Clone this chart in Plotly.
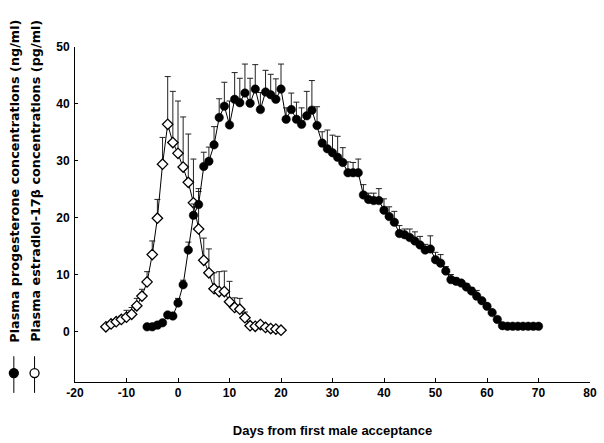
import plotly.graph_objects as go

# Estradiol-17beta (pg/ml), open diamonds
e2_days = list(range(-14, 21))
e2_vals = [0.8, 1.3, 1.7, 2.1, 2.5, 3.0, 4.5, 6.2, 8.7, 13.5, 19.9, 29.4, 36.4, 33.2,
           31.3, 28.9, 26.2, 22.6, 18.0, 12.5, 10.3, 7.5, 7.0, 7.0, 5.2, 4.2, 3.9, 2.4,
           1.0, 0.9, 1.2, 0.7, 0.5, 0.4, 0.2]
e2_err = [0.2, 0.3, 0.4, 0.6, 1.2, 1.2, 1.3, 1.2, 1.8, 2.4, 3.3, 4.7, 8.4, 9.0,
          9.2, 8.8, 8.5, 7.7, 6.6, 3.9, 4.2, 2.8, 3.5, 3.6, 3.6, 1.7, 1.9, 1.0,
          0.3, 0.3, 0.3, 0.2, 0.2, 0.2, 0.2]

# Progesterone (ng/ml), filled circles
p4_days = list(range(-6, 71))
p4_vals = [0.8, 0.8, 1.1, 1.5, 2.9, 2.7, 5.0, 8.2, 14.3, 20.4, 22.3, 29.0, 29.9, 32.8,
           37.6, 39.6, 36.3, 40.8, 40.2, 41.9, 40.1, 42.6, 39.0, 42.1, 41.6, 40.8, 42.6,
           37.3, 39.0, 37.3, 36.4, 37.9, 38.9, 36.2, 33.1, 32.1, 31.4, 30.6, 29.7, 27.9,
           27.9, 27.9, 24.0, 23.2, 23.0, 23.0, 21.3, 20.2, 19.2, 17.2, 17.0, 16.5, 15.9,
           15.2, 14.3, 14.5, 12.6, 12.0, 10.6, 9.1, 8.8, 8.5, 7.8, 7.1, 6.2, 5.4, 4.4,
           3.3, 2.1, 1.0, 0.9, 0.9, 0.9, 0.9, 0.9, 0.9, 0.9]
p4_err = [0.2, 0.2, 0.2, 0.2, 0.4, 0.5, 0.8, 0.8, 1.4, 2.0, 2.8, 2.5, 2.5, 3.2,
          3.3, 4.2, 4.2, 4.7, 4.3, 5.1, 4.4, 4.3, 3.0, 3.8, 3.6, 3.6, 4.4,
          2.0, 2.9, 3.0, 2.9, 4.3, 5.2, 3.3, 2.0, 3.3, 3.1, 3.7, 2.6, 1.9,
          1.8, 2.4, 1.8, 1.1, 1.3, 2.1, 2.0, 1.7, 1.9, 1.4, 1.0, 1.5, 1.6,
          1.5, 1.0, 2.3, 1.3, 1.5, 0.8, 0.9, 0.6, 0.4, 0.6, 0.6, 1.0, 0.2, 0.2,
          0.2, 0.2, 0.2, 0.2, 0.2, 0.2, 0.2, 0.2, 0.2, 0.2]

x_ticks = [-20, -10, 0, 10, 20, 30, 40, 50, 60, 70, 80]
y_ticks = [0, 10, 20, 30, 40, 50]

FONT = "Liberation Sans"
LFONT = "DejaVu Sans"

fig = go.Figure()
fig.add_trace(go.Scatter(
    x=e2_days, y=e2_vals, mode="lines+markers",
    line=dict(color="black", width=1),
    marker=dict(symbol="diamond", size=8, color="white", line=dict(color="black", width=1.3)),
    error_y=dict(type="data", array=e2_err, arrayminus=[0] * len(e2_err), symmetric=False,
                 color="#222", thickness=1, width=3),
    showlegend=False, hoverinfo="skip"))
fig.add_trace(go.Scatter(
    x=p4_days, y=p4_vals, mode="lines+markers",
    line=dict(color="black", width=1),
    marker=dict(symbol="circle", size=8.5, color="black", line=dict(color="black", width=0.5)),
    error_y=dict(type="data", array=p4_err, arrayminus=[0] * len(p4_err), symmetric=False,
                 color="#222", thickness=1, width=3),
    showlegend=False, hoverinfo="skip"))

fig.update_layout(
    width=604, height=443,
    margin=dict(l=75, r=7, t=47, b=58),
    paper_bgcolor="white", plot_bgcolor="white",
    font=dict(family=FONT, size=12, color="black"),
    xaxis=dict(range=[-20, 80], tickvals=x_ticks, ticktext=[str(v) for v in x_ticks],
               showgrid=False, zeroline=False, showline=True, linecolor="black", linewidth=1,
               ticks="inside", ticklen=4, tickcolor="black",
               tickfont=dict(family=FONT, size=12, color="black", weight="bold"),
               title=dict(text="Days from first male acceptance", standoff=26,
                          font=dict(family=FONT, size=13, color="black", weight="bold"))),
    yaxis=dict(range=[-8.9, 50], tickvals=y_ticks, ticktext=[str(v) for v in y_ticks],
               showgrid=False, zeroline=False, showline=True, linecolor="black", linewidth=1,
               ticks="inside", ticklen=3, tickcolor="black", ticklabelstandoff=2,
               tickfont=dict(family=FONT, size=12, color="black", weight="bold")),
)

# Custom rotated legend on the left
def px_x(px):
    return (px - 75) / 522.0

def px_y(py):
    return (385 - py) / 338.0

legend_items = [
    (13, "Plasma progesterone concentrations (ng/ml)", "black"),
    (34, "Plasma estradiol-17\u03b2 concentrations (pg/ml)", "white"),
]
for xp, label, fill in legend_items:
    fig.add_annotation(text=label, xref="paper", yref="paper", x=px_x(xp + 1), y=px_y(347),
                       xanchor="center", yanchor="bottom", textangle=-90, showarrow=False,
                       font=dict(family=LFONT, size=12.8, color="black", weight="bold"))
    fig.add_shape(type="line", xref="paper", yref="paper", x0=px_x(xp), x1=px_x(xp),
                  y0=px_y(359), y1=px_y(396), line=dict(color="black", width=1))
    fig.add_shape(type="circle", xref="paper", yref="paper", xsizemode="pixel", ysizemode="pixel",
                  xanchor=px_x(xp), yanchor=px_y(376), x0=-4.5, x1=4.5, y0=-4.5, y1=4.5,
                  fillcolor=fill, line=dict(color="black", width=1.3))

post = (
    "document.documentElement.style.margin='0';"
    "document.documentElement.style.overflow='hidden';"
    "document.body.style.margin='0';"
    "document.body.style.padding='0';"
    "document.body.style.overflow='hidden';"
    "var g=document.getElementById('{plot_id}');"
    "g.style.display='block';"
    "if(g.parentElement){g.parentElement.style.height='443px';"
    "g.parentElement.style.width='604px';g.parentElement.style.overflow='hidden';}"
)

fig.write_html("out.html", config={"displayModeBar": False}, post_script=post)
